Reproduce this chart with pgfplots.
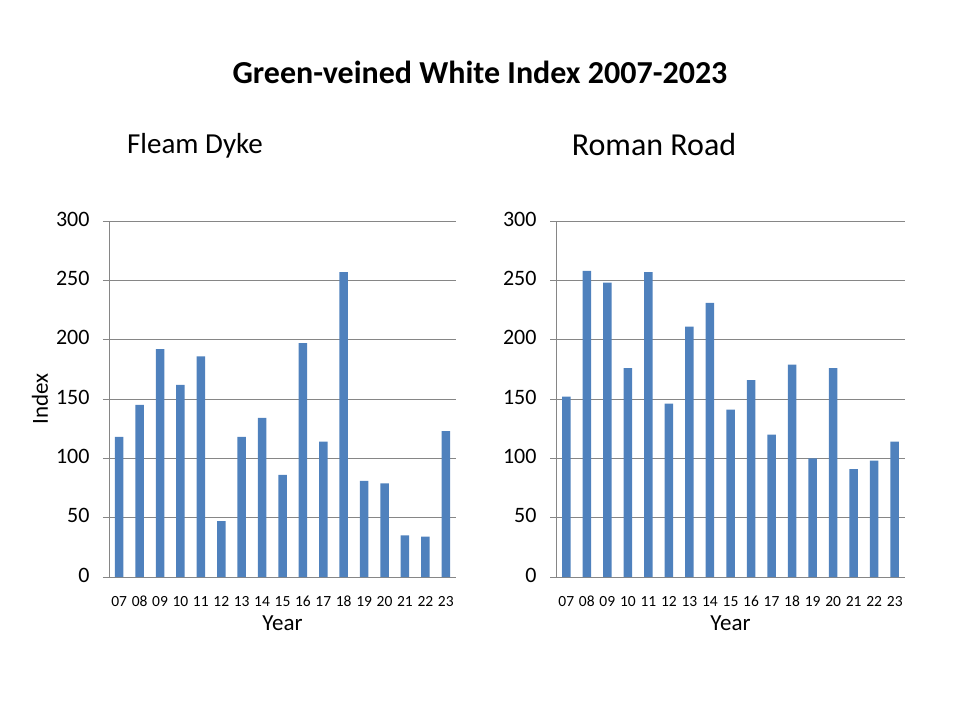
\documentclass[border=0pt]{standalone}
\usepackage{pgfplots}
\pgfplotsset{compat=1.18}
\usepackage{fontspec}
\setmainfont{Carlito}
\definecolor{barblue}{HTML}{4F81BD}
\definecolor{gridgray}{HTML}{868686}
\pgfplotsset{
  mybar/.style={
    scale only axis, anchor=south west,
    width=347pt, height=356pt,
    ybar, bar width=8.5pt,
    xmin=-0.5, xmax=16.5, ymin=0, ymax=300,
    ytick={0,50,...,300},
    xtick={0,...,16},
    xticklabels={07,08,09,10,11,12,13,14,15,16,17,18,19,20,21,22,23},
    extra x ticks={-0.5,0.5,...,16.5},
    extra x tick labels={},
    extra x tick style={major tick length=6pt, tick style={gridgray, line width=0.8pt}, tick align=outside, grid=none},
    major x tick style={draw=none},
    ymajorgrids, grid style={gridgray, line width=0.8pt},
    axis x line*=bottom, axis y line*=left,
    axis line style={gridgray, line width=0.8pt, -},
    y tick style={gridgray, line width=0.8pt}, ytick align=outside, major tick length=6pt,
    typeset ticklabels with strut,
    xticklabel style={font=\fontsize{15.5}{18}\selectfont, yshift=-7pt},
    yticklabel style={font=\fontsize{22}{26}\selectfont, xshift=-10pt},
    /pgf/number format/assume math mode=true,
    xlabel={Year}, xlabel style={font=\fontsize{23}{27}\selectfont, yshift=15pt},
    enlargelimits=false, clip=false,
  }
}
\begin{document}
\begin{tikzpicture}[x=1pt,y=1pt]
\useasboundingbox (0,0) rectangle (960,720);
\node[font=\bfseries\fontsize{32}{38}\selectfont] at (480,648) {Green-veined White Index 2007-2023};
\node[font=\fontsize{29}{34}\selectfont] at (195,574) {Fleam Dyke};
\node[font=\fontsize{32}{38}\selectfont] at (654,575) {Roman Road};
\begin{axis}[mybar, at={(109pt,143pt)}, ylabel={Index}, ylabel style={font=\fontsize{23}{27}\selectfont, at={(axis description cs:-0.199,0.5)}, anchor=center}]
\addplot[fill=barblue, draw=none] coordinates {
(0,118) (1,145) (2,192) (3,162) (4,186) (5,47) (6,118) (7,134) (8,86)
(9,197) (10,114) (11,257) (12,81) (13,79) (14,35) (15,34) (16,123)};
\end{axis}
\begin{axis}[mybar, at={(556pt,143pt)}, width=349pt]
\addplot[fill=barblue, draw=none] coordinates {
(0,152) (1,258) (2,248) (3,176) (4,257) (5,146) (6,211) (7,231) (8,141)
(9,166) (10,120) (11,179) (12,100) (13,176) (14,91) (15,98) (16,114)};
\end{axis}
\end{tikzpicture}
\end{document}
